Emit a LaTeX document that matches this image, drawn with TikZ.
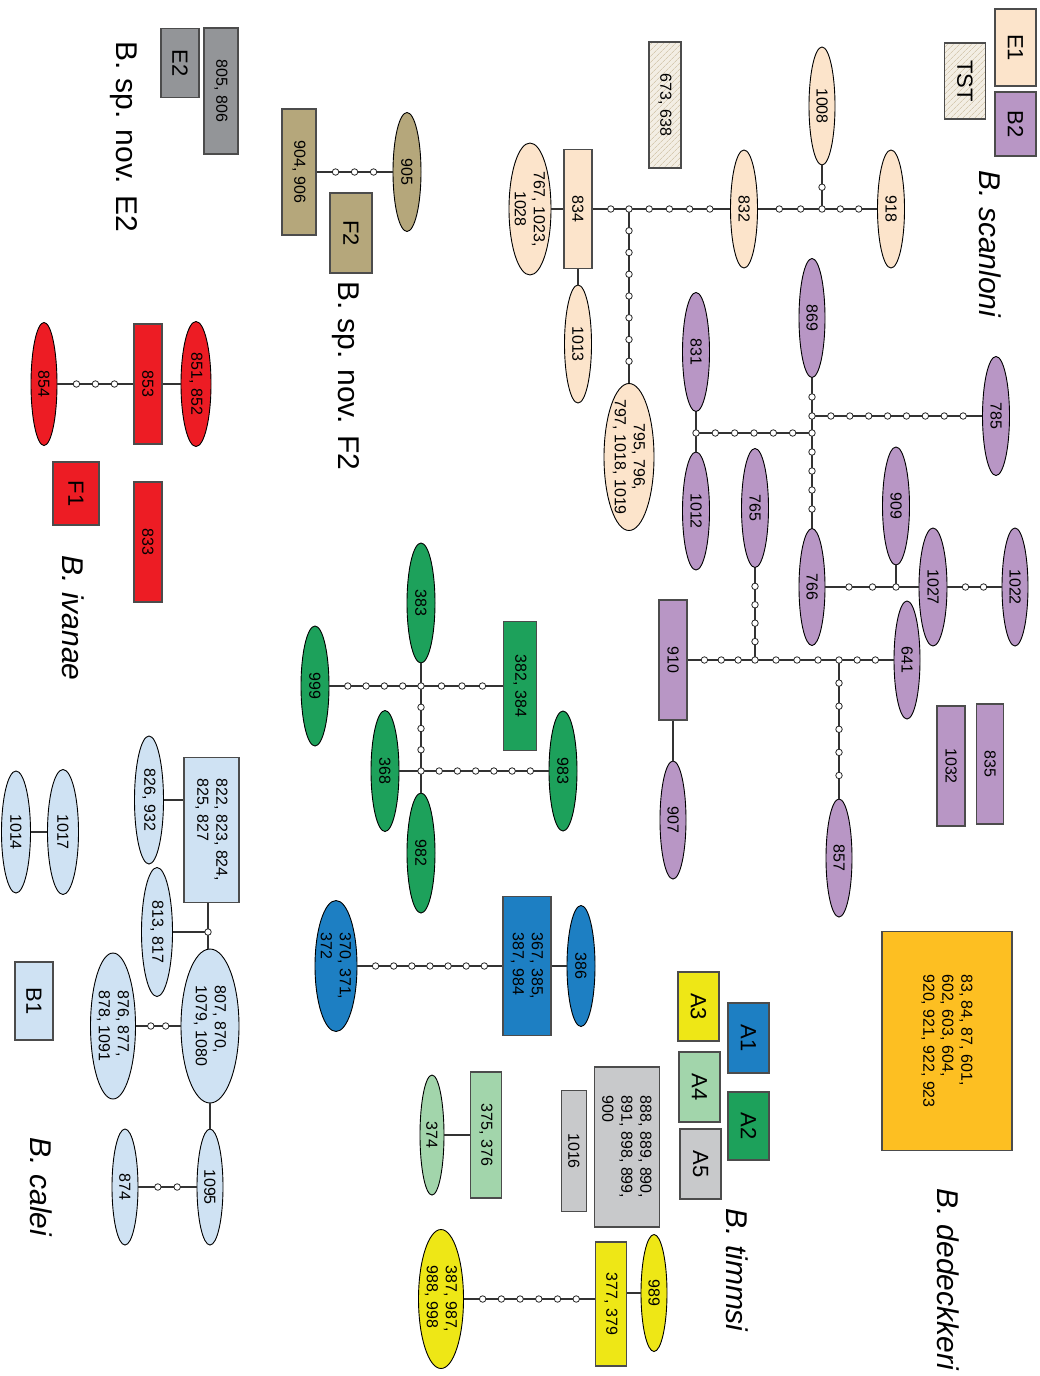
\documentclass[tikz,border=0pt]{standalone}
\usepackage{fontspec}
\setmainfont{Liberation Sans}
\usepackage{graphicx}
\usetikzlibrary{shapes.geometric,patterns.meta}

\definecolor{peach}{HTML}{FCE4CB}
\definecolor{purp}{HTML}{B896C5}
\definecolor{grayE}{HTML}{939598}
\definecolor{khaki}{HTML}{B5A77B}
\definecolor{redF}{HTML}{ED1C24}
\definecolor{lblue}{HTML}{CFE2F3}
\definecolor{greenA}{HTML}{1DA15B}
\definecolor{blueA}{HTML}{1D7FC3}
\definecolor{yelA}{HTML}{EEE716}
\definecolor{lgreen}{HTML}{A2D5AB}
\definecolor{grayA}{HTML}{C8C9CB}
\definecolor{orng}{HTML}{FDBF22}
\definecolor{tstbg}{HTML}{F3EEE4}
\definecolor{tstln}{HTML}{D6CAB2}

\newcommand\nf{\fontsize{16}{19}\selectfont}
\newcommand\lgf{\fontsize{22}{26}\selectfont}
\newcommand\spf{\fontsize{30}{34}\selectfont}

\tikzset{
  ell/.style={ellipse, draw=black, line width=0.9pt, inner sep=0pt},
  hbox/.style={rectangle, draw=black!70, line width=1.1pt, inner sep=0pt},
  txt/.style={rotate=-90, inner sep=0pt, font=\nf, align=left},
  conn/.style={draw=black!80, line width=1.3pt},
  dot/.style={circle, draw=black!85, fill=white, line width=0.8pt, inner sep=0pt, minimum size=6.5pt},
  hatch/.style={preaction={fill=tstbg}, pattern={Lines[angle=45,distance=4pt,line width=0.7pt]}, pattern color=tstln},
  species/.style={rotate=-90, inner sep=0pt, font=\spf},
}

\newcommand\hEll[6]{\node[ell,fill=#1,minimum width=#4,minimum height=#5] (#2) at (#3) {}; \node[txt] at (#2) {#6};}
\newcommand\hBox[6]{\node[hbox,fill=#1,minimum width=#4,minimum height=#5] (#2) at (#3) {}; \node[txt] at (#2) {#6};}
\newcommand\hLeg[6]{\node[hbox,fill=#1,minimum width=#4,minimum height=#5] (#2) at (#3) {}; \node[txt,font=\lgf] at (#2) {#6};}
\newcommand\mut[3]{%
  \draw[conn] (#1) -- (#2);
  \ifnum#3>0
    \foreach \k in {1,...,#3}{%
      \pgfmathsetmacro\pp{\k/(#3+1)}%
      \path (#1) -- (#2) node[dot,pos=\pp]{};
    }%
  \fi}

\begin{document}
\begin{tikzpicture}[x=1pt,y=-1pt]
\useasboundingbox (0,0) rectangle (1040,1376);
\fill[white] (0,0) rectangle (1040,1376);

% ---------- legends ----------
\hLeg{peach}{lE1}{1015.5,47.5}{41}{77}{E1}
\hLeg{purp}{lB2}{1015.5,124}{41}{64}{B2}
\node[hbox,hatch,minimum width=41,minimum height=76] (lTST) at (965,81) {};
\node[txt,font=\lgf] at (lTST) {TST};
\hLeg{grayE}{lE2}{180,63}{38}{69}{E2}
\hLeg{khaki}{lF2}{351,233}{42}{80}{F2}
\hLeg{redF}{lF1}{76,493.5}{46}{63}{F1}
\hLeg{lblue}{lB1}{34,1001}{38}{78}{B1}
\hLeg{yelA}{lA3}{698.5,1006.5}{41}{69}{A3}
\hLeg{blueA}{lA1}{748.5,1038}{41}{70}{A1}
\hLeg{lgreen}{lA4}{699.5,1087}{41}{70}{A4}
\hLeg{greenA}{lA2}{748.5,1126}{41}{68}{A2}
\hLeg{grayA}{lA5}{700.5,1164}{41}{70}{A5}

% ---------- species labels ----------
\node[species,font={\spf\itshape}] (tscan) at (990,244) {B. scanloni};
\node[species] (tE2) at (124,137) {B. sp. nov. E2};
\node[species] (tF2) at (346,376) {B. sp. nov. F2};
\node[species,font={\spf\itshape}] (tiva) at (73,618) {B. ivanae};
\node[species,font={\spf\itshape}] (tcal) at (41,1187) {B. calei};
\node[species,font={\spf\itshape}] (ttim) at (737,1270) {B. timmsi};
\node[species,font={\spf\itshape}] (tded) at (948,1279) {B. dedeckkeri};

% ---------- B. scanloni ----------
\hEll{peach}{s1008}{822,106}{26}{118}{1008}
\hEll{peach}{s832}{744,209}{27}{118}{832}
\hEll{peach}{s918}{891,209}{27}{118}{918}
\hBox{peach}{s834}{578,209}{28}{119}{834}
\node[ell,fill=peach,minimum width=42,minimum height=132] (s767) at (530,209) {};
\node[txt,align=center] at (s767) {767, 1023,\\1028};
\hEll{peach}{s1013}{578,344}{27}{118}{1013}
\node[hbox,hatch,minimum width=32,minimum height=126] (s673) at (665,105) {};
\node[txt] at (s673) {673, 638};
\node[ell,fill=peach,minimum width=50,minimum height=147] (s795) at (629,457) {};
\node[txt,align=center] at (s795) {795, 796,\\797, 1018, 1019};
\coordinate (j1) at (629,209);
\coordinate (j2) at (822,209);
\draw[conn] (s767) -- (s834);
\mut{s834}{j1}{1}
\mut{j1}{s832}{4}
\mut{s832}{j2}{2}
\mut{j2}{s918}{2}
\mut{s1008}{j2}{1}
\draw[conn] (s834) -- (s1013);
\mut{j1}{s795}{7}

% ---------- B2 (purple) ----------
\hEll{purp}{p869}{812,318}{26}{119}{869}
\hEll{purp}{p785}{996,416}{27}{119}{785}
\hEll{purp}{p831}{696,352}{27}{119}{831}
\hEll{purp}{p1012}{696,511}{27}{118}{1012}
\hEll{purp}{p765}{755,508}{27}{119}{765}
\hEll{purp}{p909}{896,506}{27}{118}{909}
\hEll{purp}{p766}{812,587}{26}{117}{766}
\hEll{purp}{p1027}{933,587}{28}{118}{1027}
\hEll{purp}{p1022}{1015,587}{26}{118}{1022}
\hBox{purp}{p910}{673,660}{28}{120}{910}
\hEll{purp}{p907}{673,820}{26}{118}{907}
\hEll{purp}{p641}{907,660}{26}{118}{641}
\hEll{purp}{p857}{839,858}{26}{118}{857}
\hBox{purp}{p1032}{951,766}{28}{120}{1032}
\hBox{purp}{p835}{990,764}{27}{120}{835}
\coordinate (q1) at (812,416);
\coordinate (q2) at (812,433);
\coordinate (q3) at (696,433);
\coordinate (q4) at (896,587);
\coordinate (q5) at (755,660);
\coordinate (q6) at (839,660);
\mut{p869}{q1}{1}
\mut{q1}{p785}{8}
\draw[conn] (q1) -- (q2);
\mut{q2}{p766}{4}
\mut{q2}{q3}{5}
\draw[conn] (p831) -- (q3);
\draw[conn] (q3) -- (p1012);
\mut{p766}{q4}{2}
\draw[conn] (p909) -- (q4);
\draw[conn] (q4) -- (p1027);
\mut{p1027}{p1022}{2}
\mut{p910}{q5}{3}
\mut{p765}{q5}{4}
\mut{q5}{q6}{3}
\mut{q6}{p641}{2}
\mut{q6}{p857}{5}
\draw[conn] (p910) -- (p907);

% ---------- A2 (green) ----------
\hEll{greenA}{g383}{421,603}{28}{120}{383}
\hEll{greenA}{g999}{315,686}{28}{120}{999}
\hBox{greenA}{g382}{520,686}{33}{129}{382, 384}
\hEll{greenA}{g983}{563,771}{28}{120}{983}
\hEll{greenA}{g368}{385,771}{28}{121}{368}
\hEll{greenA}{g982}{421,853}{28}{120}{982}
\coordinate (r1) at (421,686);
\coordinate (r2) at (421,771);
\mut{g999}{r1}{4}
\mut{r1}{g382}{3}
\draw[conn] (g383) -- (r1);
\mut{r1}{r2}{3}
\draw[conn] (r2) -- (g982);
\draw[conn] (g368) -- (r2);
\mut{r2}{g983}{6}

% ---------- A1 (blue) ----------
\hEll{blueA}{b370}{336,966}{42}{131}{370, 371,\\372}
\hBox{blueA}{b367}{527,966}{48}{139}{367, 385,\\387, 984}
\hEll{blueA}{b386}{581,966}{28}{121}{386}
\mut{b370}{b367}{7}
\draw[conn] (b367) -- (b386);

% ---------- A4, A5 ----------
\hBox{lgreen}{l375}{486,1135}{31}{126}{375, 376}
\hEll{lgreen}{l374}{432,1135}{24}{120}{374}
\draw[conn] (l374) -- (l375);
\hBox{grayA}{a1016}{574,1151}{25}{121}{1016}
\hBox{grayA}{a888}{627,1147}{65}{160}{888, 889, 890,\\891, 898, 899,\\900}

% ---------- A3 (yellow) ----------
\hEll{yelA}{y387}{441,1299}{45}{139}{387, 987,\\988, 998}
\hBox{yelA}{y377}{611,1304}{31}{124}{377, 379}
\hEll{yelA}{y989}{654,1293}{26}{117}{989}
\mut{y387}{y387 -| y377.west}{6}
\draw[conn] (y377.east |- y989) -- (y989);

% ---------- B. dedeckkeri ----------
\hBox{orng}{o83}{947,1041}{130}{219}{83, 84, 87, 601,\\602, 603, 604,\\920, 921, 922, 923}

% ---------- B. calei ----------
\hBox{lblue}{c822}{211.5,830}{55}{145}{822, 823, 824,\\825, 827}
\hEll{lblue}{c826}{149,800}{29}{128}{826, 932}
\hEll{lblue}{c813}{157,932}{31}{129}{813, 817}
\hEll{lblue}{c807}{210,1026}{58}{154}{807, 870,\\1079, 1080}
\hEll{lblue}{c876}{113,1026}{45}{146}{876, 877,\\878, 1091}
\hEll{lblue}{c1095}{210,1187}{26}{116}{1095}
\hEll{lblue}{c874}{125,1187}{26}{116}{874}
\hEll{lblue}{c1017}{63,832}{31}{125}{1017}
\hEll{lblue}{c1014}{16,832}{29}{122}{1014}
\coordinate (k1) at (208,932);
\draw[conn] (c826) -- (c826 -| c822.west);
\draw[conn] (k1 |- c822.south) -- (k1);
\draw[conn] (k1) -- (k1 |- c807.north);
\draw[conn] (c813) -- (k1);
\mut{c876}{c807}{2}
\draw[conn] (c807) -- (c1095);
\mut{c874}{c1095}{2}
\draw[conn] (c1014) -- (c1017);

% ---------- B. ivanae ----------
\hEll{redF}{i851}{196,384}{30}{125}{851, 852}
\hBox{redF}{i853}{148,384}{28}{120}{853}
\hEll{redF}{i854}{44,384}{26}{123}{854}
\hBox{redF}{i833}{148,542}{28}{120}{833}
\mut{i854}{i853}{3}
\draw[conn] (i853) -- (i851);

% ---------- E2 / F2 ----------
\hBox{grayE}{e805}{221,91}{34}{126}{805, 806}
\hBox{khaki}{f904}{299,172}{34}{126}{904, 906}
\hEll{khaki}{f905}{407,172}{28}{119}{905}
\mut{f904}{f905}{3}

% ---------- junction dots ----------
\foreach \j in {j1,j2,q1,q2,q3,q4,q5,q6,r1,r2,k1}
  \node[dot] at (\j) {};
\end{tikzpicture}
\end{document}
